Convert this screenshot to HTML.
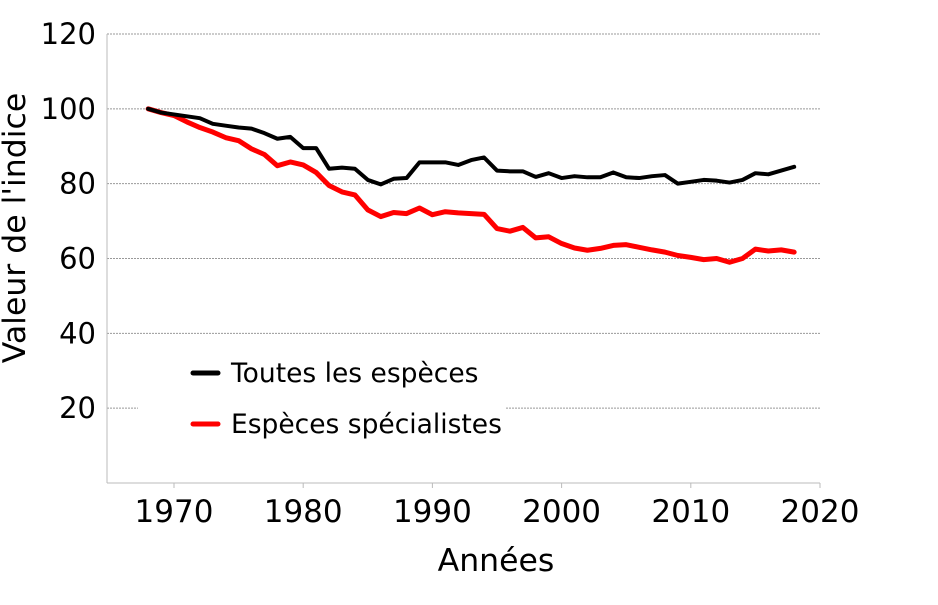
<!DOCTYPE html>
<html><head><meta charset="utf-8"><style>
body{margin:0;background:#fff;width:938px;height:600px;overflow:hidden}
text{font-family:"DejaVu Sans","Liberation Sans",sans-serif}
</style></head><body>
<svg id="chart" width="938" height="600" xmlns="http://www.w3.org/2000/svg"></svg>
<script>
const years=[1968,1969,1970,1971,1972,1973,1974,1975,1976,1977,1978,1979,1980,1981,1982,1983,1984,1985,1986,1987,1988,1989,1990,1991,1992,1993,1994,1995,1996,1997,1998,1999,2000,2001,2002,2003,2004,2005,2006,2007,2008,2009,2010,2011,2012,2013,2014,2015,2016,2017,2018];
const allSpecies=[100,99,98.5,98,97.5,96,95.5,95,94.7,93.5,92,92.5,89.5,89.5,84,84.3,84,81,79.8,81.3,81.5,85.7,85.7,85.7,85,86.3,87,83.5,83.3,83.3,81.8,82.8,81.5,82,81.7,81.7,83,81.7,81.5,82,82.3,80,80.5,81,80.8,80.3,81,82.8,82.5,83.5,84.5];
const specialists=[100,99,98.2,96.5,95,93.8,92.3,91.5,89.3,87.8,84.8,85.8,85,83,79.5,77.8,77,73,71.2,72.3,72,73.5,71.7,72.5,72.2,72,71.8,68,67.3,68.3,65.5,65.8,64,62.8,62.2,62.7,63.5,63.7,63,62.3,61.7,60.8,60.3,59.7,60,59,60,62.5,62,62.3,61.7];
const yTicks=[20,40,60,80,100,120];
const xTicks=[1970,1980,1990,2000,2010,2020];
const legendLabels=["Toutes les espèces","Espèces spécialistes"];

const NS="http://www.w3.org/2000/svg";
const svg=document.getElementById('chart');
const L=107,R=820,T=34,B=483;
const xs=y=>174+(y-1970)*(820-174)/50;
const ys=v=>B-v*(B-T)/120;
function mk(tag,attrs,parent){const e=document.createElementNS(NS,tag);for(const k in attrs)e.setAttribute(k,attrs[k]);(parent||svg).appendChild(e);return e;}

yTicks.forEach(v=>{
  const g=mk('line',{x1:L,x2:R,y1:ys(v),y2:ys(v),stroke:'#999','stroke-width':1,'stroke-dasharray':'2,1'});
  
  
  const t=mk('text',{x:96,y:ys(v)+10,'text-anchor':'end','font-size':29,fill:'#000'});
  t.textContent=v;
  
  
});
const ay=mk('line',{x1:L,x2:L,y1:T,y2:B,stroke:'#bbb','stroke-width':1});


const ax=mk('line',{x1:L,x2:R,y1:B,y2:B,stroke:'#bbb','stroke-width':1});


xTicks.forEach(y=>{
  mk('line',{x1:xs(y),x2:xs(y),y1:B,y2:B+5,stroke:'#bbb'});
  const t=mk('text',{x:xs(y),y:522,'text-anchor':'middle','font-size':31,fill:'#000'});
  t.textContent=y;
  
  
});
function line(vals,color,name){
  const p=mk('polyline',{points:vals.map((v,i)=>xs(years[i])+','+ys(v)).join(' '),fill:'none',stroke:color,'stroke-width':color==='#000'?4:5,'stroke-linejoin':'round','stroke-linecap':'round'});
  
  
}
const lb=mk('rect',{x:138,y:345,width:367,height:100,fill:'#fff'});


line(specialists,'#f00','specialists-line');
line(allSpecies,'#000','all-species-line');
[['#000',373],['#f00',424]].forEach((c,i)=>{
  const l=mk('line',{x1:193,x2:218,y1:c[1],y2:c[1],stroke:c[0],'stroke-width':5,'stroke-linecap':'round'});
  
  
  const t=mk('text',{x:231,y:c[1]+9,'font-size':26.5,fill:'#000'});
  t.textContent=legendLabels[i];
  
  
});
const xt=mk('text',{x:496,y:571,'text-anchor':'middle','font-size':31.5,fill:'#000'});
xt.textContent='Années';


const yt=mk('text',{x:0,y:0,'text-anchor':'middle','font-size':31.5,fill:'#000',transform:'translate(25,228) rotate(-90)'});
yt.textContent="Valeur de l'indice";


</script>
</body></html>
